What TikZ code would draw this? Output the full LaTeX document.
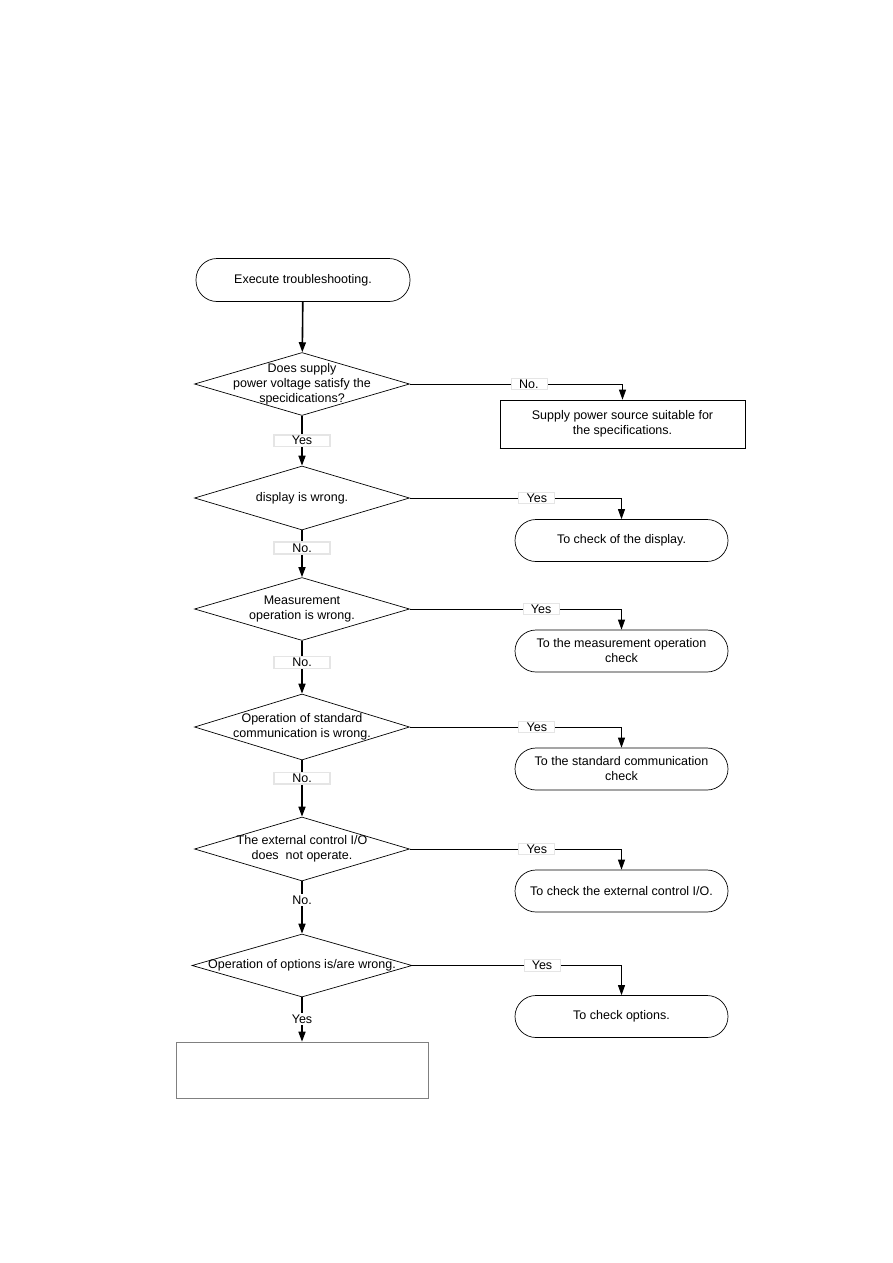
\documentclass[tikz,border=0pt]{standalone}
\usepackage{fontspec}
\setmainfont{Liberation Sans}
\usetikzlibrary{shapes.geometric,arrows.meta}
\begin{document}
\begin{tikzpicture}[x=1pt,y=-1pt,
  every node/.style={font=\fontsize{12.5}{15}\selectfont},
  dia/.style={draw,shape=diamond,minimum width=215pt,minimum height=63pt,inner sep=0pt,line width=0.7pt},
  dtext/.style={align=center,inner sep=0pt},
  term/.style={draw,rounded corners=21pt,minimum width=214pt,minimum height=43pt,align=center,line width=0.7pt},
  res/.style={draw,rounded corners=21pt,minimum width=213pt,minimum height=42pt,align=center,line width=0.7pt},
  lab/.style={fill=white,draw=gray!20,inner sep=1.5pt,minimum width=36pt},
  vlab/.style={lab,minimum width=56pt},
  arr/.style={line width=1.6pt,-{Triangle[length=10pt,width=7pt]}},
  harr/.style={line width=0.8pt,-{Triangle[length=10pt,width=7pt]}}
]
\useasboundingbox (0,0) rectangle (893,1263);
\fill[white] (0,0) rectangle (893,1263);

\node[term] (start) at (303,280) {Execute troubleshooting.};

\node[dia,label={[dtext]center:Does supply\\power voltage satisfy the\\specidications?}] (d1) at (302,384) {};
\node[draw,line width=0.6pt,minimum width=245pt,minimum height=48pt,align=center] (b1) at (622.5,424) {Supply power source suitable for\\the specifications.};
\draw[line width=1.6pt] (b1.south west) -- (b1.south east) -- (b1.north east);

\node[dia,minimum height=64pt,label={[dtext]center:display is wrong.}] (d2) at (302,498) {};
\node[res] (b2) at (621.5,540.5) {To check of the display.};

\node[dia,label={[dtext]center:Measurement\\operation is wrong.}] (d3) at (302,609) {};
\node[res] (b3) at (621.5,651) {To the measurement operation\\check};

\node[dia,minimum height=66pt,label={[dtext]center:Operation of standard\\communication is wrong.}] (d4) at (302,727) {};
\node[res] (b4) at (621.5,769) {To the standard communication\\check};

\node[dia,minimum height=64pt,label={[dtext]center:The external control I/O\\does\ \ not operate.}] (d5) at (302,849) {};
\node[res] (b5) at (621.5,891) {To check the external control I/O.};

\node[dia,minimum width=220pt,label={[dtext]center:Operation of options is/are wrong.}] (d6) at (302,965.5) {};
\node[res] (b6) at (621.5,1016.5) {To check options.};

\node[draw=gray,line width=0.6pt,minimum width=252pt,minimum height=56pt] (fin) at (302,1070) {};

% vertical flow
\draw[arr] (start) -- (d1);
\draw[arr] (d1) -- node[vlab,pos=0.5]{Yes} (d2);
\draw[arr] (d2) -- node[vlab,pos=0.38]{No.} (d3);
\draw[arr] (d3) -- node[vlab,pos=0.41]{No.} (d4);
\draw[arr] (d4) -- node[vlab,pos=0.32]{No.} (d5);
\draw[arr] (d5) -- node[fill=white,inner sep=1.5pt,pos=0.36]{No.} (d6);
\draw[arr] (d6) -- node[fill=white,inner sep=1.5pt,pos=0.49]{Yes} (fin);

% horizontal branches
\draw[harr] (d1.east) -- node[lab,pos=0.56]{No.} (b1.north |- d1.east) -- (b1.north);
\draw[harr] (d2.east) -- node[lab,pos=0.6]{Yes} (b2.north |- d2.east) -- (b2.north);
\draw[harr] (d3.east) -- node[lab,pos=0.62]{Yes} (b3.north |- d3.east) -- (b3.north);
\draw[harr] (d4.east) -- node[lab,pos=0.6]{Yes} (b4.north |- d4.east) -- (b4.north);
\draw[harr] (d5.east) -- node[lab,pos=0.6]{Yes} (b5.north |- d5.east) -- (b5.north);
\draw[harr] (d6.east) -- node[lab,pos=0.62]{Yes} (b6.north |- d6.east) -- (b6.north);
\end{tikzpicture}
\end{document}
